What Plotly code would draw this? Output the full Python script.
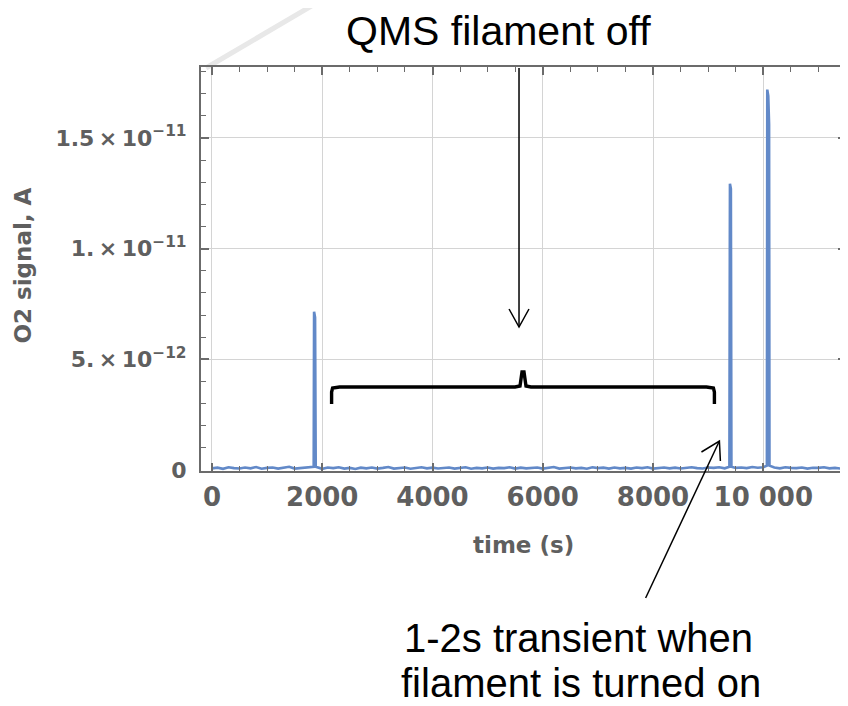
import plotly.graph_objects as go

# ---------------- data ----------------
grid_times = list(range(0, 11600, 100))  # baseline sampling grid (s)
base_pA = [0.08, 0.11, 0.06, 0.13, 0.09, 0.07, 0.12, 0.08, 0.14, 0.06,
           0.10, 0.12, 0.07, 0.11, 0.15, 0.07, 0.09, 0.13, 0.08, 0.11,
           0.06, 0.12, 0.09, 0.13, 0.07, 0.10, 0.05, 0.11, 0.08, 0.12,
           0.07, 0.10, 0.14, 0.07, 0.09, 0.12, 0.06, 0.10, 0.13, 0.08,
           0.11, 0.07, 0.09, 0.12, 0.07, 0.10, 0.13, 0.06, 0.10, 0.08,
           0.12, 0.07, 0.10, 0.09, 0.13, 0.07, 0.11, 0.08, 0.10, 0.12,
           0.07, 0.09, 0.14, 0.07, 0.10, 0.12, 0.08, 0.10, 0.06, 0.13,
           0.09, 0.11, 0.07, 0.12, 0.08, 0.10, 0.07, 0.12, 0.09, 0.13,
           0.07, 0.10, 0.12, 0.08, 0.11, 0.07, 0.10, 0.13, 0.09, 0.07,
           0.12, 0.10, 0.13, 0.08, 0.15, 0.10, 0.12, 0.09, 0.14, 0.11,
           0.13, 0.10, 0.12, 0.08, 0.13, 0.10, 0.09, 0.12, 0.07, 0.11,
           0.10, 0.13, 0.08, 0.10, 0.07, 0.09]

peak_times = [1845, 1852, 1870, 1882,
              9385, 9395, 9412, 9422,
              10065, 10072, 10090, 10105, 10112]
peak_pA = [0.15, 7.15, 6.90, 0.15,
           0.15, 12.93, 12.70, 0.15,
           0.20, 17.18, 16.90, 15.60, 0.20]

x_tick_vals = [0, 2000, 4000, 6000, 8000, 10000]
x_tick_text = ["0", "2000", "4000", "6000", "8000", "10 000"]
y_tick_vals = [0, 5e-12, 1e-11, 1.5e-11]
y_tick_text = ["0", "5.\u2009×\u200910<sup>−12</sup>", "1.\u2009×\u200910<sup>−11</sup>",
               "1.5\u2009×\u200910<sup>−11</sup>"]

# merge baseline and peaks
pairs = [(t, v) for t, v in zip(grid_times, base_pA)
         if all(abs(t - p) > 60 for p in peak_times)]
pairs += list(zip(peak_times, peak_pA))
pairs.sort()
time_s = [p[0] for p in pairs]
signal_A = [p[1] * 1e-12 for p in pairs]

# ---------------- layout helpers ----------------
OFF = 8  # page body margin
FW, FH = 848 - OFF, 706 - OFF
L, T, R, B = 201, 67, 848, 471   # plot area in screen pixels
PW, PH = R - L, B - T


def px(x):
    return (x - L) / PW


def py(y):
    return (B - y) / PH


AXC = "#6b6b6b"
TXT = "#5f5f5f"
xtickfont = dict(family="DejaVu Sans", size=26, color=TXT, weight="bold")
ytickfont = dict(family="DejaVu Sans", size=22, color=TXT, weight="bold")
titlefont = dict(family="DejaVu Sans", size=23, color=TXT, weight="bold")
notefont = dict(family="Liberation Sans, Arial", size=40, color="black")

fig = go.Figure()
fig.add_trace(go.Scatter(x=time_s, y=signal_A, mode="lines",
                         line=dict(color="#6289C8", width=2.6),
                         showlegend=False, hoverinfo="skip"))

fig.update_xaxes(range=[-199, 11500], tickvals=x_tick_vals, ticktext=x_tick_text,
                 showline=True, linecolor=AXC, linewidth=2, mirror="ticks",
                 ticks="inside", ticklen=8, tickwidth=1.5, tickcolor=AXC,
                 showgrid=True, gridcolor="#d4d4d4", gridwidth=1,
                 zeroline=False, tickfont=xtickfont, ticklabelstandoff=2,
                 minor=dict(dtick=500, tick0=0, ticks="inside", ticklen=5,
                            tickwidth=1.2, tickcolor=AXC, showgrid=False))
fig.update_yaxes(range=[-0.04e-12, 18.2e-12], tickvals=y_tick_vals, ticktext=y_tick_text,
                 showline=True, linecolor=AXC, linewidth=2, mirror="ticks",
                 ticks="inside", ticklen=8, tickwidth=1.5, tickcolor=AXC,
                 showgrid=True, gridcolor="#d4d4d4", gridwidth=1,
                 zeroline=False, tickfont=ytickfont, ticklabelstandoff=8,
                 minor=dict(dtick=1e-12, tick0=0, ticks="inside", ticklen=5,
                            tickwidth=1.2, tickcolor=AXC, showgrid=False))

shapes = []
# faint diagonal watermark stroke
shapes.append(dict(type="line", xref="paper", yref="paper",
                   x0=px(206), y0=py(68), x1=px(322), y1=py(0),
                   line=dict(color="#e8e8e8", width=5), layer="below"))
# vertical arrow from top
blk = dict(color="black", width=1.5)
shapes.append(dict(type="line", xref="paper", yref="paper",
                   x0=px(520), y0=py(68), x1=px(520), y1=py(327), line=blk))
shapes.append(dict(type="path", xref="paper", yref="paper",
                   path=f"M {px(510)},{py(309)} L {px(520)},{py(327)} L {px(530)},{py(309)}",
                   line=blk))
# curly brace
bpts = [(332, 404), (332, 392), (333, 388), (340, 387), (516, 387), (521, 386), (523, 372),
        (525, 372), (527, 386), (532, 387), (708, 387), (715, 388), (716, 392), (716, 404)]
bpath = "M " + " L ".join(f"{px(a)},{py(b)}" for a, b in bpts)
shapes.append(dict(type="path", xref="paper", yref="paper", path=bpath,
                   line=dict(color="black", width=3.4)))
# diagonal arrow from bottom text
shapes.append(dict(type="line", xref="paper", yref="paper",
                   x0=px(647), y0=py(598), x1=px(721), y1=py(441), line=blk))
shapes.append(dict(type="path", xref="paper", yref="paper",
                   path=f"M {px(703)},{py(452)} L {px(721)},{py(441)} L {px(722)},{py(461)}",
                   line=blk))

annotations = [
    dict(text="QMS filament off", xref="paper", yref="paper", x=px(499), y=py(31),
         xanchor="center", yanchor="middle", showarrow=False,
         font=dict(family="Liberation Sans, Arial", size=41, color="black")),
    dict(text="1-2s transient when", xref="paper", yref="paper",
         x=px(404), y=py(661), xanchor="left", yanchor="bottom",
         showarrow=False, borderpad=0, font=notefont),
    dict(text="filament is turned on", xref="paper", yref="paper",
         x=px(401), y=py(706), xanchor="left", yanchor="bottom",
         showarrow=False, borderpad=0, font=notefont),
    dict(text="time (s)", xref="paper", yref="paper", x=px(525), y=py(545),
         xanchor="center", yanchor="middle", showarrow=False, font=titlefont),
    dict(text="O2 signal, A", xref="paper", yref="paper", x=px(22), y=py(266),
         xanchor="center", yanchor="middle", textangle=-90, showarrow=False, font=titlefont),
]

fig.update_layout(width=FW, height=FH,
                  margin=dict(l=L - OFF, r=0, t=T - OFF, b=FH - (B - OFF)),
                  plot_bgcolor="white", paper_bgcolor="white",
                  shapes=shapes, annotations=annotations, showlegend=False)

fig.write_html("out.html")
